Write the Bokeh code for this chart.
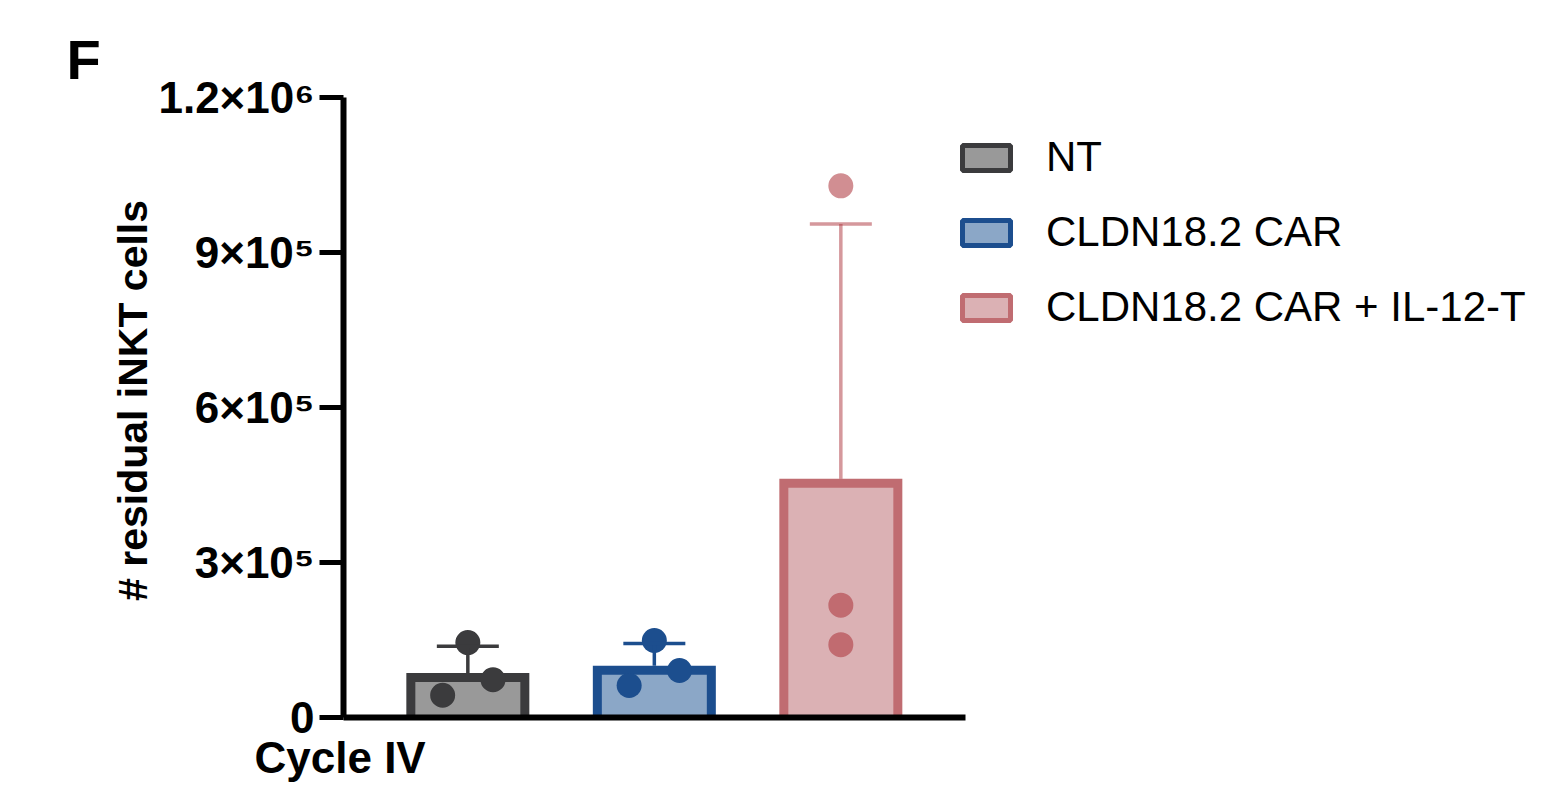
from bokeh.plotting import figure
from bokeh.models import (Range1d, FixedTicker, Legend, LegendItem, Title,
                          ColumnDataSource, Whisker, TeeHead)
from bokeh.embed import file_html
from bokeh.resources import INLINE

# ---------------- data ----------------
groups = ["NT", "CLDN18.2 CAR", "CLDN18.2 CAR + IL-12-T"]
group_pos = [1, 2, 3]
means = [86000, 100000, 462000]
sds = [52000, 43000, 493000]
nt_points = [145000, 73000, 43000]
car_points = [149000, 91000, 62000]
il12_points = [1029000, 217500, 141000]
y_ticks = [0, 300000, 600000, 900000, 1200000]
y_tick_labels = ["0", "3×10⁵", "6×10⁵", "9×10⁵", "1.2×10⁶"]
y_title = "# residual iNKT cells"
x_title = "Cycle IV"
panel_letter = "F"

# ---------------- style ----------------
FONT = "Liberation Sans"
stroke_colors = ["#3B3B3D", "#1C4E8E", "#C06C71"]
fill_colors = ["#999999", "#8BA7C7", "#DBB1B4"]
point_colors = ["#3B3B3D", "#1C4E8E", "#AB3239"]
point_alphas = [1.0, 1.0, 0.55]
err_colors = ["#3B3B3D", "#1C4E8E", "#AB3239"]
err_alphas = [1.0, 1.0, 0.5]
point_offsets = [[0.0, 0.135, -0.135], [0.0, 0.135, -0.135], [0.0, 0.0, 0.0]]

W, H = 1541, 796
BL, BR, BT, BB = 343, 0, 83, 79
frame_w = W - BL - BR
frame_h = H - BT - BB
px_per_unit = 186.5
y_top_tick = y_ticks[-1]
y_end = y_top_tick * frame_h / 620.0
x_start = 1.0 / 3.0
x_end = x_start + frame_w / px_per_unit
ux = 1.0 / px_per_unit          # data units per pixel (x)
uy = y_end / frame_h            # data units per pixel (y)
bar_outer_w = 123 * ux
border_px = 9

p = figure(width=W, height=H, output_backend="svg", toolbar_location=None,
           x_range=Range1d(x_start, x_end), y_range=Range1d(0, y_end),
           min_border_left=BL, min_border_right=BR, min_border_top=BT,
           min_border_bottom=BB,
           title=Title(text=panel_letter, align="left", offset=-277,
                       text_font=FONT, text_font_style="bold",
                       text_font_size="56px", text_color="black", standoff=-15))
p.outline_line_color = None
p.xgrid.visible = False
p.ygrid.visible = False
p.background_fill_color = "white"
p.border_fill_color = "white"

# legend proxies (hidden beneath the real bars)
legend_renderers = []
for i in range(3):
    r = p.vbar(x=[group_pos[i]], top=[means[i] * 0.5], bottom=0, width=0.3,
               fill_color=fill_colors[i], line_color=stroke_colors[i], line_width=5)
    legend_renderers.append(r)

# bars: border drawn inside the bar outline (outer edge = mean)
outer_src = ColumnDataSource(dict(x=group_pos, top=means, c=stroke_colors))
p.vbar(x="x", top="top", bottom=0, width=bar_outer_w, source=outer_src,
       fill_color="c", line_color=None)
inner_src = ColumnDataSource(dict(x=group_pos,
                                  top=[m - border_px * uy for m in means],
                                  c=fill_colors))
p.vbar(x="x", top="top", bottom=0, width=bar_outer_w - 2 * border_px * ux,
       source=inner_src, fill_color="c", line_color=None)

# error bars (mean + SD)
for i in range(3):
    src = ColumnDataSource(dict(base=[group_pos[i]], lower=[means[i]],
                                upper=[means[i] + sds[i]]))
    w = Whisker(base="base", lower="lower", upper="upper", source=src,
                line_color=err_colors[i], line_alpha=err_alphas[i], line_width=3.5,
                lower_head=None,
                upper_head=TeeHead(size=62, line_color=err_colors[i],
                                   line_alpha=err_alphas[i], line_width=3.5),
                level="glyph")
    p.add_layout(w)

# points
all_points = [nt_points, car_points, il12_points]
for i in range(3):
    xs = [group_pos[i] + o for o in point_offsets[i]]
    p.scatter(x=xs, y=all_points[i], size=25, fill_color=point_colors[i],
              fill_alpha=point_alphas[i], line_color=None)

# axes
yax = p.yaxis[0]
yax.ticker = FixedTicker(ticks=y_ticks)
yax.bounds = (0, y_top_tick)
yax.major_label_overrides = {t: l for t, l in zip(y_ticks, y_tick_labels)}
yax.axis_line_width = 6
yax.axis_line_color = "black"
yax.major_tick_line_width = 5
yax.major_tick_line_color = "black"
yax.major_tick_out = 24
yax.major_tick_in = 0
yax.minor_tick_line_color = None
yax.major_label_standoff = 5
yax.major_label_text_font = FONT
yax.major_label_text_font_style = "bold"
yax.major_label_text_font_size = "44px"
yax.major_label_text_color = "black"
yax.axis_label = y_title
yax.axis_label_text_font = FONT
yax.axis_label_text_font_style = "bold"
yax.axis_label_text_font_size = "41px"
yax.axis_label_text_color = "black"
yax.axis_label_standoff = -1

xax = p.xaxis[0]
xax.ticker = FixedTicker(ticks=[])
xax.bounds = (x_start, 3 + 2.0 / 3.0)
xax.axis_line_width = 6
xax.axis_line_color = "black"
xax.major_tick_line_color = None
xax.minor_tick_line_color = None
xax.major_label_text_font_size = "0px"

p.add_layout(Title(text=x_title, align="left", offset=-89, text_font=FONT,
                   text_font_style="bold", text_font_size="44px",
                   text_color="black", standoff=27), "below")

# legend
items = [LegendItem(label=groups[i], renderers=[legend_renderers[i]]) for i in range(3)]
legend = Legend(items=items, location=(613, 386), orientation="vertical",
                glyph_width=60, glyph_height=31, label_standoff=30,
                label_text_font=FONT, label_text_font_size="42px",
                label_text_color="black", spacing=27, padding=0, margin=0,
                border_line_alpha=0, background_fill_alpha=0)
p.add_layout(legend)

open("out.html", "w").write(file_html(p, INLINE))
